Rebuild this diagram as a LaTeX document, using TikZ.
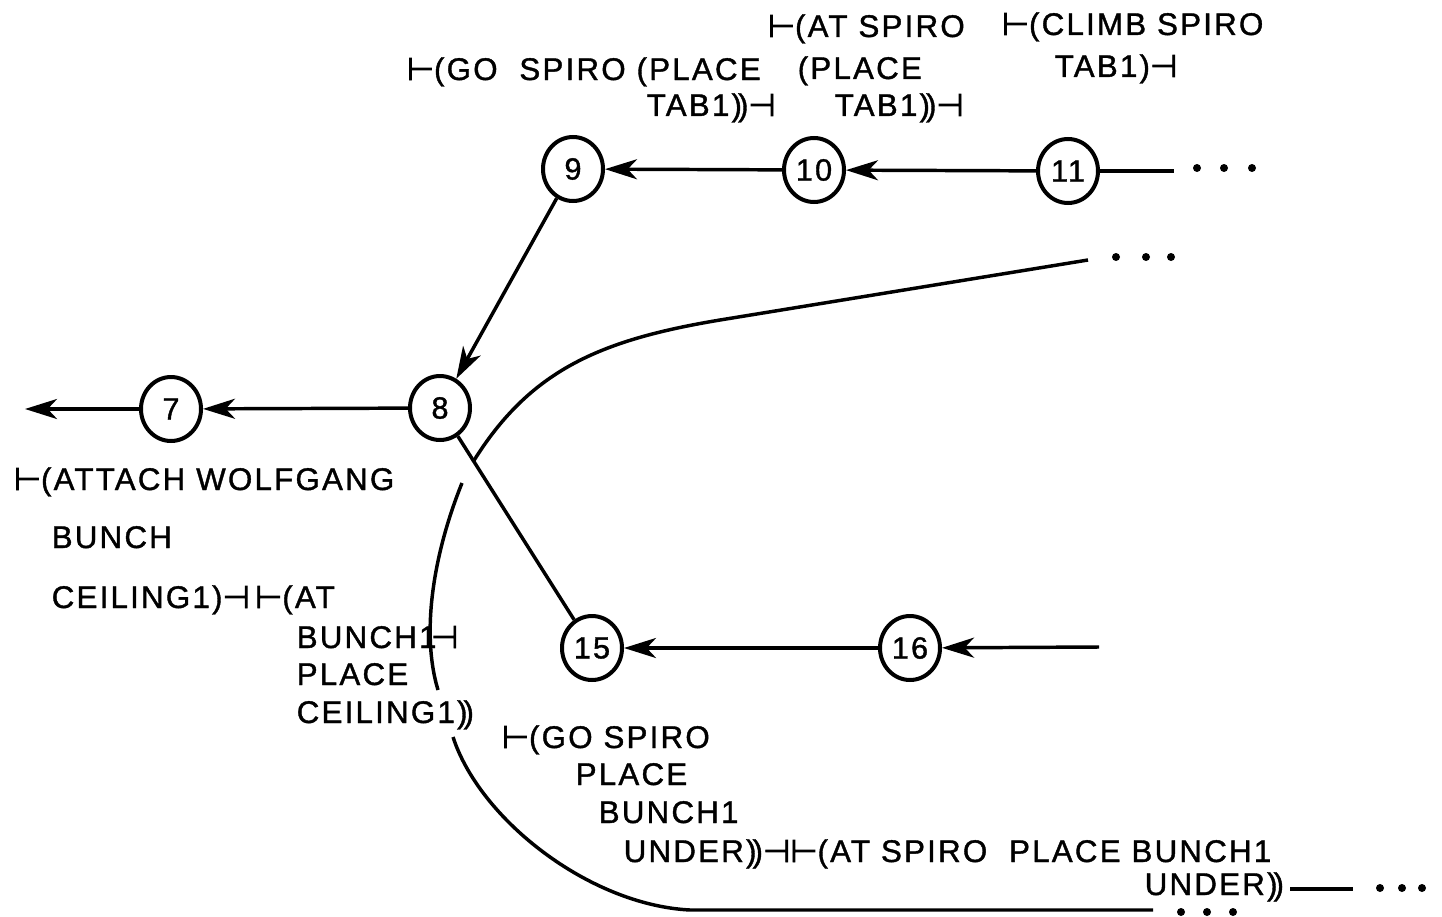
\documentclass[tikz,border=0pt]{standalone}
\usepackage{fontspec}
\setmainfont{Liberation Sans}[LetterSpace=7,FakeBold=1.2]
\newfontfamily\turnfont{DejaVu Sans}[FakeBold=2.5]
\usetikzlibrary{shapes.geometric,arrows.meta}
\newcommand{\tstart}{{\turnfont\symbol{"22A2}}}
\newcommand{\tend}{{\turnfont\symbol{"22A3}}}
\newcommand{\pp}{)\kern-3pt)}
\tikzset{every picture/.style={line width=2.6pt},
  state/.style={ellipse,draw,line width=3pt,minimum width=45pt,minimum height=48pt,
    inner sep=0pt,font=\fontsize{23pt}{27pt}\selectfont},
  lbl/.style={anchor=base west,inner sep=0pt,font=\fontsize{23.5pt}{27pt}\selectfont},
  tip/.style={-{Stealth[length=24pt,width=15pt,inset=7pt]}}}

\begin{document}
\begin{tikzpicture}[x=0.75pt,y=0.75pt,yscale=-1,xscale=1]

\useasboundingbox (0,0) rectangle (1442,917);

%States
\node[state] (n9) at (573,169) {9};
\node[state] (n10) at (814,170) {10};
\node[state] (n11) at (1068,171) {11};
\node[state] (n8) at (440,408) {8};
\node[state] (n7) at (171,409) {7};
\node[state] (n15) at (592,648) {15};
\node[state] (n16) at (910,648) {16};

%Loose ends
\coordinate (w7) at (25,409);
\coordinate (e11) at (1174,171);
\coordinate (e16) at (1099,647);
\coordinate (ua) at (473,462);
\coordinate (ub) at (1088,260);
\coordinate (la) at (462,483);
\coordinate (lb) at (438,690);
\coordinate (lc) at (453,737);
\coordinate (ld) at (1153,910);
\coordinate (ue) at (1290,889);
\coordinate (uf) at (1353,889);

%Straight Lines
\draw[tip] (n10) -- (n9);
\draw[tip] (n11) -- (n10);
\draw (n11) -- (e11);
\draw[tip] (n9) -- (n8);
\draw[tip] (n8) -- (n7);
\draw[tip] (n7) -- (w7);
\draw (n8) -- (n15);
\draw[tip] (n16) -- (n15);
\draw[tip] (e16) -- (n16);
\draw (ue) -- (uf);

%Curves
\draw (ua) .. controls (530,370) and (600,340) .. (720,320) -- (ub);
\draw (la) .. controls (435,550) and (420,630) .. (lb);
\draw (lc) .. controls (480,820) and (590,905) .. (690,910) -- (ld);

%Dots
\foreach \x in {1197,1224,1252} \fill (\x,168) circle (4);
\foreach \x in {1116,1146,1171} \fill (\x,257) circle (4);
\foreach \x in {1380,1402,1422} \fill (\x,888) circle (4);
\foreach \x in {1181,1207,1233} \fill (\x,912) circle (4);

% Text Node
\node[lbl] (ta1) at (405,80) {\tstart(GO~~SPIRO (PLACE};
\node[lbl] (ta2) at (645,116) {TAB1\pp\tend};
\node[lbl] (tb1) at (766,37) {\tstart(AT SPIRO};
\node[lbl] (tb2) at (796,79) {(PLACE};
\node[lbl] (tb3) at (833,116) {TAB1\pp\tend};
\node[lbl] (tc1) at (1000,35) {\tstart(CLIMB~SPIRO};
\node[lbl] (tc2) at (1053,77) {TAB1)\tend};
% Text Node
\node[lbl] (td1) at (12,490) {\tstart(ATTACH WOLFGANG};
\node[lbl] (td2) at (50,548) {BUNCH};
\node[lbl] (td3) at (50,608) {CEILING1)\tend\,\tstart(AT};
\node[lbl] (td4) at (295,648) {BUNCH1\kern-4pt\tend};
\node[lbl] (td5) at (295,685) {PLACE};
\node[lbl] (td6) at (295,723) {CEILING1\pp};
% Text Node
\node[lbl] (te1) at (500,748) {\tstart(GO SPIRO};
\node[lbl] (te2) at (574,785) {PLACE};
\node[lbl] (te3) at (597,823) {BUNCH1};
\node[lbl] (te4) at (622,862) {UNDER\pp\tend\tstart(AT SPIRO~~PLACE BUNCH1};
\node[lbl] (te5) at (1143,895) {UNDER\pp};

\end{tikzpicture}
\end{document}
